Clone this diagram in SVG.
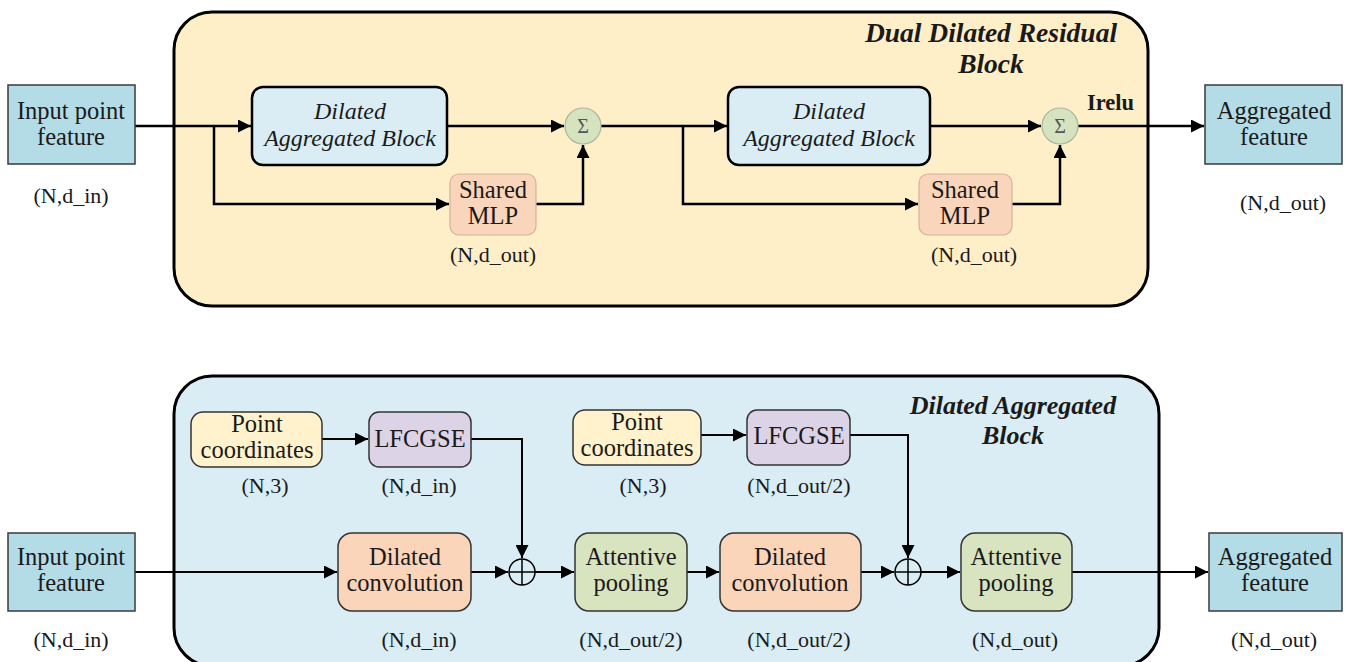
<svg xmlns="http://www.w3.org/2000/svg" width="1347" height="662" viewBox="0 0 1347 662">
<defs>
<marker id="ah" viewBox="0 0 10 10" refX="10" refY="5" markerUnits="userSpaceOnUse" markerWidth="15" markerHeight="13" orient="auto"><path d="M0,0 L10,5 L0,10 z" fill="#000"/></marker>
</defs>
<style>
text{font-family:'Liberation Serif','DejaVu Serif',serif;font-size:22px;fill:#1a1a1a;text-anchor:middle}
.n{font-size:24.5px}
.it{font-style:italic;font-size:24px}
.title{font-style:italic;font-weight:bold;font-size:27.5px}
.title2{font-style:italic;font-weight:bold;font-size:26px}
.bold{font-weight:bold;font-size:22.5px;text-anchor:start}
.panel{stroke:#000;stroke-width:3}
.io{fill:#B4DCE6;stroke:#3a3a3a;stroke-width:1.5}
.dab{fill:#DAEDF4;stroke:#000;stroke-width:2.5}
.mlp{fill:#F9D5BB;stroke:#D5B29A;stroke-width:1.2}
.sig{fill:#D5E3C0;stroke:#A9B89A;stroke-width:1.2}
.pc{fill:#FFF2CC;stroke:#333;stroke-width:1.5}
.lf{fill:#DCD4E6;stroke:#333;stroke-width:1.5}
.dc{fill:#FAD5BA;stroke:#333;stroke-width:1.5}
.ap{fill:#D8E4C0;stroke:#333;stroke-width:1.5}
.c1{fill:none;stroke:#000;stroke-width:2.5}
.c2{fill:none;stroke:#000;stroke-width:2}
.op{fill:none;stroke:#000;stroke-width:1.5}
</style>

<g id="panel-top">
<rect class="panel" x="174" y="12" width="974" height="294" rx="38" fill="#FFEFC9"/>
<text class="title" x="991" y="42">Dual Dilated Residual</text>
<text class="title" x="991" y="73">Block</text>
</g>
<g id="panel-bottom">
<rect class="panel" x="174" y="376" width="985" height="290" rx="38" fill="#DBEDF4"/>
<text class="title2" x="1013" y="414">Dilated Aggregated</text>
<text class="title2" x="1013" y="444">Block</text>
</g>

<g id="connectors">
<path class="c1" d="M135,126 H251" marker-end="url(#ah)"/>
<path class="c1" d="M214,126 V204 H449" marker-end="url(#ah)"/>
<path class="c1" d="M447,126 H564" marker-end="url(#ah)"/>
<path class="c1" d="M536,204 H583 V145" marker-end="url(#ah)"/>
<path class="c1" d="M601,126 H727" marker-end="url(#ah)"/>
<path class="c1" d="M683,126 V204 H918" marker-end="url(#ah)"/>
<path class="c1" d="M930,126 H1041" marker-end="url(#ah)"/>
<path class="c1" d="M1012,204 H1060 V145" marker-end="url(#ah)"/>
<path class="c1" d="M1078,126 H1204" marker-end="url(#ah)"/>

<path class="c2" d="M135,572 H337" marker-end="url(#ah)"/>
<path class="c2" d="M322,439 H368" marker-end="url(#ah)"/>
<path class="c2" d="M471,439 H522 V558" marker-end="url(#ah)"/>
<path class="c2" d="M471,572 H508" marker-end="url(#ah)"/>
<path class="c2" d="M535,572 H574" marker-end="url(#ah)"/>
<path class="c2" d="M687,572 H719" marker-end="url(#ah)"/>
<path class="c2" d="M701,435 H746" marker-end="url(#ah)"/>
<path class="c2" d="M850,435 H908 V558" marker-end="url(#ah)"/>
<path class="c2" d="M861,572 H894" marker-end="url(#ah)"/>
<path class="c2" d="M921,572 H960" marker-end="url(#ah)"/>
<path class="c2" d="M1072,572 H1208" marker-end="url(#ah)"/>
</g>

<g id="input-top">
<rect class="io" x="8" y="85" width="127" height="79"/>
<text class="n" x="71" y="119">Input point</text>
<text class="n" x="71" y="145">feature</text>
<text x="71" y="203">(N,d_in)</text>
</g>
<g id="dab1">
<rect class="dab" x="252" y="87" width="195" height="78" rx="11"/>
<text class="it" x="350" y="119">Dilated</text>
<text class="it" x="350" y="146">Aggregated Block</text>
</g>
<g id="mlp1">
<rect class="mlp" x="450" y="174" width="86" height="61" rx="9"/>
<text class="n" x="493" y="198">Shared</text>
<text class="n" x="493" y="224">MLP</text>
<text x="493" y="262">(N,d_out)</text>
</g>
<g id="sum1">
<circle class="sig" cx="583" cy="126" r="18"/>
<text x="583" y="133" style="font-size:20px;fill:#555">Σ</text>
</g>
<g id="dab2">
<rect class="dab" x="728" y="87" width="202" height="78" rx="11"/>
<text class="it" x="829" y="119">Dilated</text>
<text class="it" x="829" y="146">Aggregated Block</text>
</g>
<g id="mlp2">
<rect class="mlp" x="919" y="174" width="93" height="61" rx="9"/>
<text class="n" x="965" y="198">Shared</text>
<text class="n" x="965" y="224">MLP</text>
<text x="974" y="262">(N,d_out)</text>
</g>
<g id="sum2">
<circle class="sig" cx="1060" cy="126" r="18"/>
<text x="1060" y="133" style="font-size:20px;fill:#555">Σ</text>
</g>
<text class="bold" x="1087" y="110">Irelu</text>
<g id="output-top">
<rect class="io" x="1205" y="85" width="137" height="79"/>
<text class="n" x="1274" y="119">Aggregated</text>
<text class="n" x="1274" y="145">feature</text>
<text x="1283" y="210">(N,d_out)</text>
</g>

<g id="input-bottom">
<rect class="io" x="8" y="533" width="127" height="78"/>
<text class="n" x="71" y="565">Input point</text>
<text class="n" x="71" y="591">feature</text>
<text x="71" y="647">(N,d_in)</text>
</g>
<g id="pc1">
<rect class="pc" x="191" y="412" width="131" height="55" rx="12"/>
<text class="n" x="257" y="432">Point</text>
<text class="n" x="257" y="458">coordinates</text>
<text x="265" y="493">(N,3)</text>
</g>
<g id="lf1">
<rect class="lf" x="369" y="412" width="102" height="55" rx="10"/>
<text class="n" x="420" y="447">LFCGSE</text>
<text x="419" y="493">(N,d_in)</text>
</g>
<g id="dc1">
<rect class="dc" x="338" y="533" width="133" height="78" rx="14"/>
<text class="n" x="405" y="565">Dilated</text>
<text class="n" x="405" y="591">convolution</text>
<text x="419" y="647">(N,d_in)</text>
</g>
<g id="add1">
<circle class="op" cx="522" cy="572" r="13"/>
<path class="op" d="M509,572 H535 M522,559 V585"/>
</g>
<g id="ap1">
<rect class="ap" x="575" y="533" width="112" height="78" rx="14"/>
<text class="n" x="631" y="565">Attentive</text>
<text class="n" x="631" y="591">pooling</text>
<text x="631" y="647">(N,d_out/2)</text>
</g>
<g id="pc2">
<rect class="pc" x="573" y="410" width="128" height="55" rx="12"/>
<text class="n" x="637" y="430">Point</text>
<text class="n" x="637" y="456">coordinates</text>
<text x="643" y="493">(N,3)</text>
</g>
<g id="lf2">
<rect class="lf" x="747" y="410" width="103" height="55" rx="10"/>
<text class="n" x="799" y="444">LFCGSE</text>
<text x="799" y="493">(N,d_out/2)</text>
</g>
<g id="dc2">
<rect class="dc" x="720" y="533" width="141" height="78" rx="14"/>
<text class="n" x="790" y="565">Dilated</text>
<text class="n" x="790" y="591">convolution</text>
<text x="799" y="647">(N,d_out/2)</text>
</g>
<g id="add2">
<circle class="op" cx="908" cy="572" r="13"/>
<path class="op" d="M895,572 H921 M908,559 V585"/>
</g>
<g id="ap2">
<rect class="ap" x="961" y="533" width="111" height="78" rx="14"/>
<text class="n" x="1016" y="565">Attentive</text>
<text class="n" x="1016" y="591">pooling</text>
<text x="1015" y="647">(N,d_out)</text>
</g>
<g id="output-bottom">
<rect class="io" x="1209" y="533" width="133" height="78"/>
<text class="n" x="1275" y="565">Aggregated</text>
<text class="n" x="1275" y="591">feature</text>
<text x="1274" y="647">(N,d_out)</text>
</g>
</svg>
